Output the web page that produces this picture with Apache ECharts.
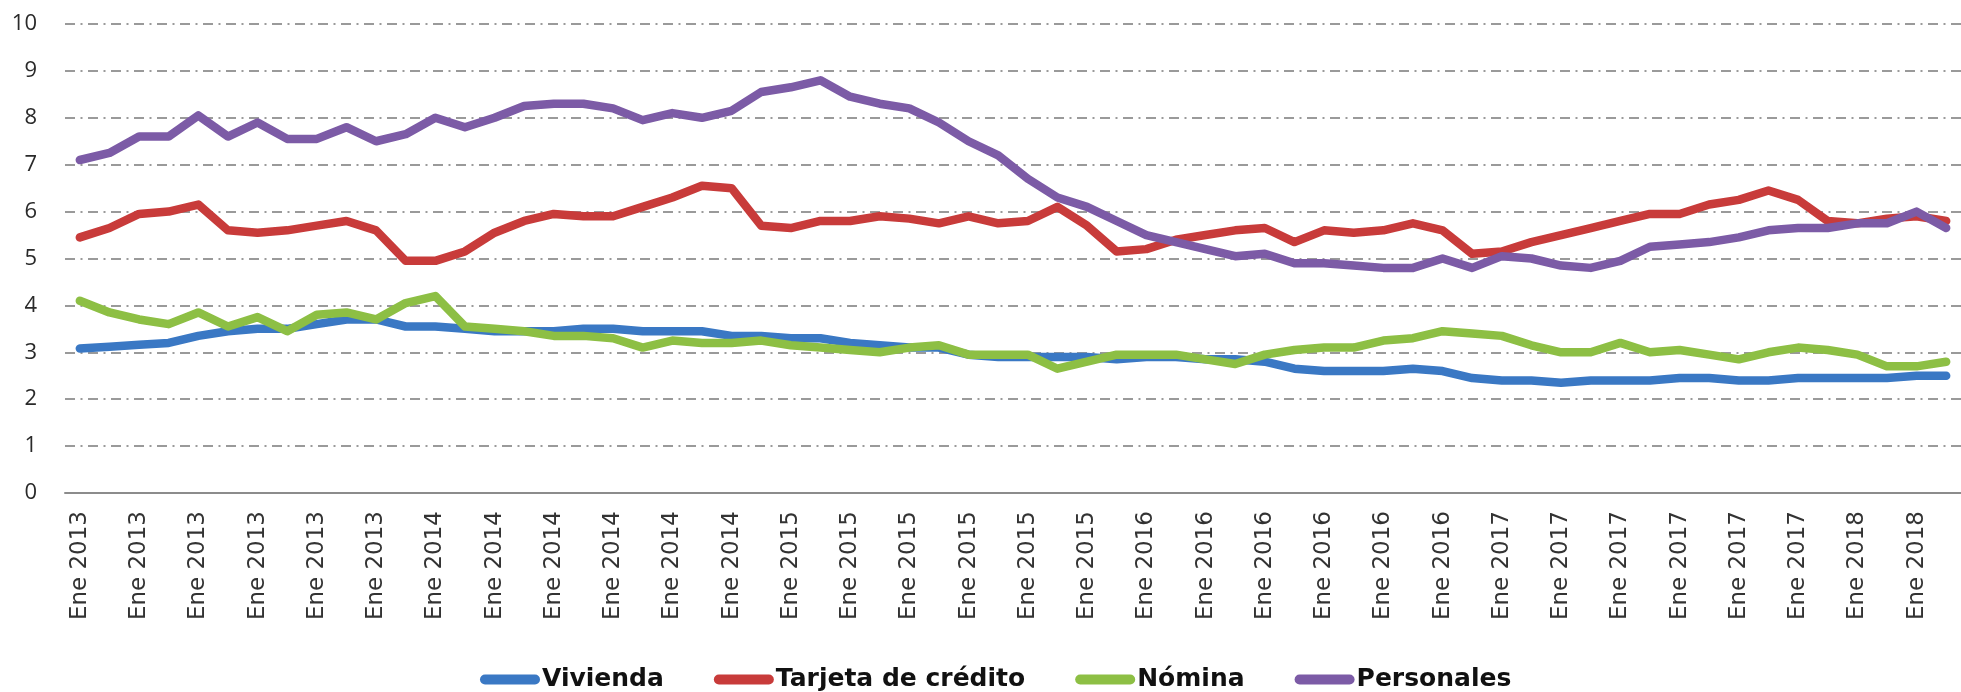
<!DOCTYPE html>
<html>
<head>
<meta charset="utf-8">
<script src="https://cdn.jsdelivr.net/npm/echarts@6/dist/echarts.min.js"></script>
<style>
  html, body { margin: 0; padding: 0; background: #fff; }
  #chart { width: 1961px; height: 692px; }
</style>
</head>
<body>
<div id="chart"></div>
<script>
// meses desde Ene 2013 hasta Abr 2018 (el eje de Excel muestra "Ene" siempre)
var years = [2013, 2014, 2015, 2016, 2017, 2018];
var monthsInLastYear = 4;
var categories = [];
for (var y = 0; y < years.length; y++) {
  var n = (y == years.length - 1) ? monthsInLastYear : 12;
  for (var m = 0; m < n; m++) categories.push('Ene ' + years[y]);
}

var vivienda = [3.08, 3.12, 3.16, 3.2, 3.35, 3.45, 3.5, 3.5, 3.6, 3.7, 3.7, 3.55,
  3.55, 3.5, 3.45, 3.45, 3.45, 3.5, 3.5, 3.45, 3.45, 3.45, 3.35, 3.35,
  3.3, 3.3, 3.2, 3.15, 3.1, 3.1, 2.95, 2.9, 2.9, 2.9, 2.9, 2.85,
  2.9, 2.9, 2.85, 2.85, 2.8, 2.65, 2.6, 2.6, 2.6, 2.65, 2.6, 2.45,
  2.4, 2.4, 2.35, 2.4, 2.4, 2.4, 2.45, 2.45, 2.4, 2.4, 2.45, 2.45,
  2.45, 2.45, 2.5, 2.5];

var tarjeta = [5.45, 5.65, 5.95, 6.0, 6.15, 5.6, 5.55, 5.6, 5.7, 5.8, 5.6, 4.95,
  4.95, 5.15, 5.55, 5.8, 5.95, 5.9, 5.9, 6.1, 6.3, 6.55, 6.5, 5.7,
  5.65, 5.8, 5.8, 5.9, 5.85, 5.75, 5.9, 5.75, 5.8, 6.1, 5.7, 5.15,
  5.2, 5.4, 5.5, 5.6, 5.65, 5.35, 5.6, 5.55, 5.6, 5.75, 5.6, 5.1,
  5.15, 5.35, 5.5, 5.65, 5.8, 5.95, 5.95, 6.15, 6.25, 6.45, 6.25, 5.8,
  5.75, 5.85, 5.9, 5.8];

var nomina = [4.1, 3.85, 3.7, 3.6, 3.85, 3.55, 3.75, 3.45, 3.8, 3.85, 3.7, 4.05,
  4.2, 3.55, 3.5, 3.45, 3.35, 3.35, 3.3, 3.1, 3.25, 3.2, 3.2, 3.25,
  3.15, 3.1, 3.05, 3.0, 3.1, 3.15, 2.95, 2.95, 2.95, 2.65, 2.8, 2.95,
  2.95, 2.95, 2.85, 2.75, 2.95, 3.05, 3.1, 3.1, 3.25, 3.3, 3.45, 3.4,
  3.35, 3.15, 3.0, 3.0, 3.2, 3.0, 3.05, 2.95, 2.85, 3.0, 3.1, 3.05,
  2.95, 2.7, 2.7, 2.8];

var personales = [7.1, 7.25, 7.6, 7.6, 8.05, 7.6, 7.9, 7.55, 7.55, 7.8, 7.5, 7.65,
  8.0, 7.8, 8.0, 8.25, 8.3, 8.3, 8.2, 7.95, 8.1, 8.0, 8.15, 8.55,
  8.65, 8.8, 8.45, 8.3, 8.2, 7.9, 7.5, 7.2, 6.7, 6.3, 6.1, 5.8,
  5.5, 5.35, 5.2, 5.05, 5.1, 4.9, 4.9, 4.85, 4.8, 4.8, 5.0, 4.8,
  5.05, 5.0, 4.85, 4.8, 4.95, 5.25, 5.3, 5.35, 5.45, 5.6, 5.65, 5.65,
  5.75, 5.75, 6.0, 5.65];

var names = ['Vivienda', 'Tarjeta de crédito', 'Nómina', 'Personales'];
var colors = ['#3a78c4', '#c83b3a', '#8dbf44', '#7c5ba6'];
var yTicks = [0, 10, 1]; // min, max, interval

function serie(i, data) {
  return {
    name: names[i],
    type: 'line',
    data: data,
    symbol: 'none',
    smooth: false,
    lineStyle: { width: 8.5, color: colors[i], cap: 'round', join: 'round' },
    itemStyle: { color: colors[i] }
  };
}

var myChart = echarts.init(document.getElementById('chart'));
var option = {
  backgroundColor: '#ffffff',
  animation: false,
  grid: { left: 65, top: 24, width: 64 * 29.8, height: 469 },
  legend: {
    left: 475,
    top: 662,
    itemWidth: 60,
    itemHeight: 10,
    itemGap: 50,
    icon: 'path://M5,0 L55,0 A5,5 0 0 1 55,10 L5,10 A5,5 0 0 1 5,0 Z',
    textStyle: {
      fontFamily: 'DejaVu Sans',
      fontWeight: 'bold',
      fontSize: 25,
      color: '#111',
      padding: [0, 0, 0, -3]
    },
    data: names
  },
  xAxis: {
    type: 'category',
    data: categories,
    boundaryGap: true,
    axisLine: { show: true, lineStyle: { color: '#8c8c8c', width: 2 } },
    axisTick: { show: false },
    axisLabel: {
      interval: 1,
      rotate: 90,
      margin: 18,
      fontFamily: 'DejaVu Sans',
      fontSize: 23,
      color: '#333'
    },
    splitLine: { show: false }
  },
  yAxis: {
    type: 'value',
    min: yTicks[0],
    max: yTicks[1],
    interval: yTicks[2],
    axisLine: { show: false },
    axisTick: { show: false },
    axisLabel: {
      margin: 28,
      fontFamily: 'Open Sans',
      fontSize: 22,
      color: '#2a2a2a'
    },
    splitLine: {
      show: true,
      lineStyle: { color: '#9a9a9a', width: 2, type: [10, 5.5, 2, 5.5] }
    }
  },
  series: [
    serie(0, vivienda),
    serie(1, tarjeta),
    serie(2, nomina),
    serie(3, personales)
  ]
};
myChart.setOption(option);
</script>
</body>
</html>
